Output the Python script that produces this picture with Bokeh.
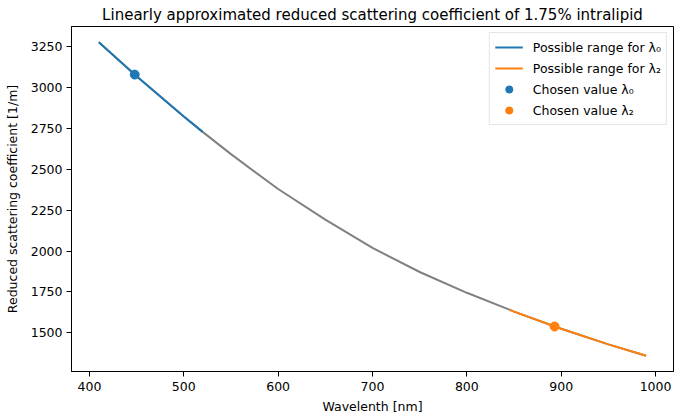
from bokeh.plotting import figure
from bokeh.models import Range1d, FixedTicker, Legend, LegendItem
from bokeh.embed import file_html
from bokeh.resources import INLINE

# Reduced scattering coefficient of 1.75% intralipid (linear approximation)
wavelength = [410, 450, 500, 520, 550, 600, 650, 700, 750, 800, 845, 850, 900, 950, 990]
mu_s_prime = [3276, 3068, 2822, 2728, 2592, 2379, 2192, 2019, 1872, 1745, 1642, 1630, 1525, 1430, 1360]

# Allowed wavelength windows for the two sources
range_l0 = (410, 520)
range_l2 = (845, 990)

# Selected operating points
chosen_l0 = (448, 3078)
chosen_l2 = (893, 1539)

x_ticks = [400, 500, 600, 700, 800, 900, 1000]
y_ticks = [1500, 1750, 2000, 2250, 2500, 2750, 3000, 3250]

BLUE = "#1f77b4"
ORANGE = "#ff7f0e"
GREY = "#808080"
FONT = "DejaVu Sans"


def segment(lo, hi):
    xs, ys = [], []
    for x, y in zip(wavelength, mu_s_prime):
        if lo <= x <= hi:
            xs.append(x)
            ys.append(y)
    return xs, ys


x_min, x_max = min(wavelength), max(wavelength)
y_min, y_max = min(mu_s_prime), max(mu_s_prime)
x_pad = 0.05 * (x_max - x_min)
y_pad = 0.05 * (y_max - y_min)

p = figure(
    frame_width=602,
    frame_height=345,
    output_backend="svg",
    toolbar_location=None,
    x_range=Range1d(x_min - x_pad, x_max + x_pad),
    y_range=Range1d(y_min - y_pad, y_max + y_pad),
    min_border_left=71,
    min_border_right=2,
    min_border_top=26,
    min_border_bottom=41,
    background_fill_color="white",
    border_fill_color="white",
)

p.title.text = "Linearly approximated reduced scattering coefficient of 1.75% intralipid"
p.title.align = "center"
p.title.text_font = FONT
p.title.text_font_size = "15px"
p.title.text_font_style = "normal"
p.title.text_color = "black"
p.title.standoff = 5

p.outline_line_color = "black"
p.outline_line_width = 1
p.grid.visible = False

for ax in (p.xaxis[0], p.yaxis[0]):
    ax.axis_line_color = "black"
    ax.major_tick_line_color = "black"
    ax.major_tick_out = 5
    ax.major_tick_in = 0
    ax.minor_tick_line_color = None
    ax.major_label_text_font = FONT
    ax.major_label_text_font_size = "12.5px"
    ax.major_label_text_color = "black"
    ax.axis_label_text_font = FONT
    ax.axis_label_text_font_size = "12.5px"
    ax.axis_label_text_font_style = "normal"
    ax.axis_label_text_color = "black"

p.xaxis.ticker = FixedTicker(ticks=x_ticks)
p.yaxis.ticker = FixedTicker(ticks=y_ticks)
p.xaxis.axis_label = "Wavelenth [nm]"
p.yaxis.axis_label = "Reduced scattering coefficient [1/m]"
p.xaxis.major_label_standoff = 5
p.yaxis.major_label_standoff = 4
p.xaxis.axis_label_standoff = 5
p.yaxis.axis_label_standoff = 8

# full approximated curve
p.line(wavelength, mu_s_prime, line_color=GREY, line_width=2)

x0, y0 = segment(*range_l0)
x2, y2 = segment(*range_l2)
r_l0 = p.line(x0, y0, line_color=BLUE, line_width=2)
r_l2 = p.line(x2, y2, line_color=ORANGE, line_width=2)
r_c0 = p.scatter([chosen_l0[0]], [chosen_l0[1]], size=9, fill_color=BLUE, line_color=BLUE)
r_c2 = p.scatter([chosen_l2[0]], [chosen_l2[1]], size=9, fill_color=ORANGE, line_color=ORANGE)

legend = Legend(
    items=[
        LegendItem(label="Possible range for λ₀", renderers=[r_l0]),
        LegendItem(label="Possible range for λ₂", renderers=[r_l2]),
        LegendItem(label="Chosen value λ₀", renderers=[r_c0]),
        LegendItem(label="Chosen value λ₂", renderers=[r_c2]),
    ],
    location="top_right",
    margin=6,
    padding=5,
    spacing=3,
    glyph_width=28,
    glyph_height=18,
    label_text_font=FONT,
    label_text_font_size="12.5px",
    label_text_color="black",
    label_standoff=10,
    border_line_color="#cccccc",
    border_line_width=1,
    background_fill_color="white",
    background_fill_alpha=0.8,
)
p.add_layout(legend, "center")

open("out.html", "w").write(file_html(p, INLINE))
